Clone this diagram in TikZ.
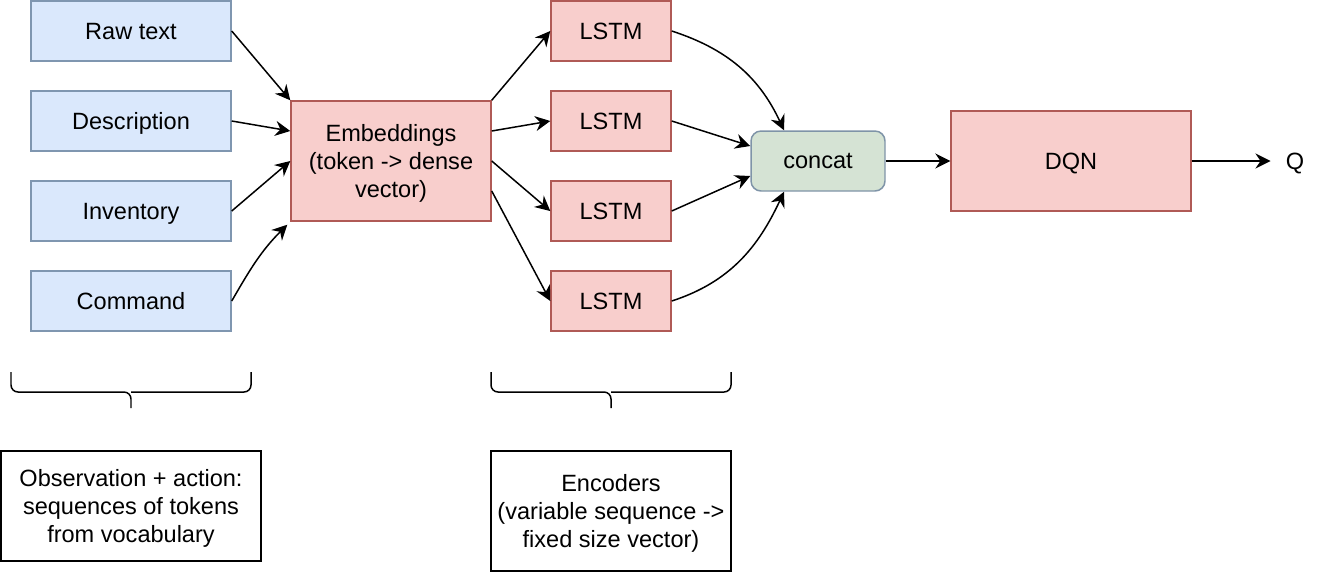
\documentclass[tikz,border=0pt]{standalone}
\usepackage{fontspec}
\setmainfont{Liberation Sans}
\usepackage{tikz}
\usetikzlibrary{arrows.meta,positioning}
\definecolor{bleuFond}{HTML}{DAE8FC}
\definecolor{bleuBord}{HTML}{7F96B0}
\definecolor{rougeFond}{HTML}{F8CECC}
\definecolor{rougeBord}{HTML}{B05A56}
\definecolor{vertFond}{HTML}{D5E3D4}
\definecolor{vertBord}{HTML}{7F94A8}

\begin{document}
\begin{tikzpicture}[x=0.02cm, y=-0.02cm,
  font=\fontsize{13.4pt}{15.9pt}\selectfont,
  inbox/.style={draw=bleuBord, fill=bleuFond, line width=0.85pt, text depth=0pt, minimum width=4cm, minimum height=1.2cm},
  redbox/.style={draw=rougeBord, fill=rougeFond, line width=0.85pt, text depth=0pt, align=center},
  notebox/.style={draw=black, line width=0.85pt, text depth=0pt, align=center},
  fleche/.style={-{Stealth[length=3mm, width=3mm, inset=1mm]}, line width=0.85pt}]

\useasboundingbox (0,0) rectangle (1324,572);

\node[inbox] (raw) at (131,31) {Raw text};
\node[inbox] (desc) at (131,121) {Description};
\node[inbox] (inv) at (131,211) {Inventory};
\node[inbox] (cmd) at (131,301) {Command};

\node[redbox, minimum width=4cm, minimum height=2.4cm] (emb) at (391,161) {Embeddings\\(token -> dense\\vector)};

\node[redbox, minimum width=2.4cm, minimum height=1.2cm] (lstmA) at (611,31) {LSTM};
\node[redbox, minimum width=2.4cm, minimum height=1.2cm] (lstmB) at (611,121) {LSTM};
\node[redbox, minimum width=2.4cm, minimum height=1.2cm] (lstmC) at (611,211) {LSTM};
\node[redbox, minimum width=2.4cm, minimum height=1.2cm] (lstmD) at (611,301) {LSTM};

\node[draw=vertBord, fill=vertFond, line width=0.85pt, text depth=0pt, rounded corners=0.2cm, minimum width=2.68cm, minimum height=1.2cm] (concat) at (818,161) {concat};
\node[redbox, minimum width=4.8cm, minimum height=2cm] (dqn) at (1071,161) {DQN};
\node[inner sep=0.3cm, text depth=0pt] (q) at (1295,161) {Q};

\node[notebox, minimum width=5.2cm, minimum height=2.2cm] (obs) at (131,506) {Observation + action:\\sequences of tokens\\from vocabulary};
\node[notebox, minimum width=4.8cm, minimum height=2.4cm] (enc) at (611,511) {Encoders\\(variable sequence ->\\fixed size vector)};

\draw[fleche] (raw.east) -- (emb.north west);
\draw[fleche] (desc.east) -- ([yshift=0.6cm]emb.west);
\draw[fleche] (inv.east) -- (emb.west);
\draw[fleche] (cmd.east) to[out=60, in=-135] ([xshift=-0.06cm, yshift=-0.06cm]emb.south west);

\draw[fleche] (emb.north east) -- (lstmA.west);
\draw[fleche] ([yshift=0.6cm]emb.east) -- (lstmB.west);
\draw[fleche] (emb.east) -- (lstmC.west);
\draw[fleche] ([yshift=-0.6cm]emb.east) -- (lstmD.west);

\draw[fleche] (lstmA.east) to[out=-18, in=115] ([xshift=-0.68cm]concat.north);
\draw[fleche] (lstmB.east) -- ([yshift=0.3cm]concat.west);
\draw[fleche] (lstmC.east) -- ([yshift=-0.3cm]concat.west);
\draw[fleche] (lstmD.east) to[out=18, in=-115] ([xshift=-0.68cm]concat.south);

\draw[fleche] (concat.east) -- (dqn.west);
\draw[fleche] (dqn.east) -- (q.west);

\draw[line width=0.85pt, rounded corners=0.14cm] (11,372) -- (11,392) -- (131,392) -- (131,408);
\draw[line width=0.85pt, rounded corners=0.14cm] (251,372) -- (251,392) -- (131,392);
\draw[line width=0.85pt, rounded corners=0.14cm] (491,372) -- (491,392) -- (611,392) -- (611,408);
\draw[line width=0.85pt, rounded corners=0.14cm] (731,372) -- (731,392) -- (611,392);

\end{tikzpicture}
\end{document}
